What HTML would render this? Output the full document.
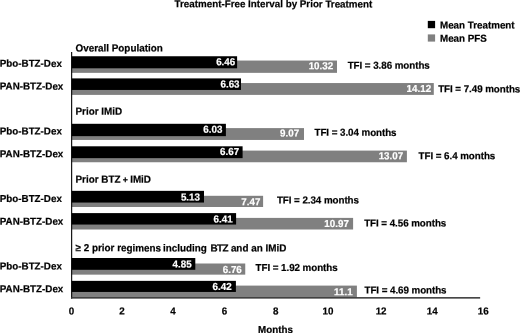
<!DOCTYPE html>
<html><head><meta charset="utf-8"><title>Treatment-Free Interval by Prior Treatment</title>
<style>
html,body{margin:0;padding:0;background:#fff;}
body{width:520px;height:333px;overflow:hidden;position:relative;font-family:"Liberation Sans",sans-serif;font-weight:bold;font-size:9.8px;color:#000;-webkit-text-stroke:0.2px;text-rendering:geometricPrecision;filter:blur(0.3px);}
.t{position:absolute;left:0;top:0;white-space:nowrap;line-height:12px;height:12px;transform-origin:0 0;}
.w{color:#fff;text-align:right;width:40px;}
.c{text-align:center;width:40px;}
.h{font-size:9.9px;}
.f{letter-spacing:-0.06px;}
svg{position:absolute;left:0;top:0;}
</style></head><body>
<svg width="520" height="333" viewBox="0 0 520 333">
<rect x="427.8" y="20.9" width="7.3" height="7.3" fill="#000"/>
<rect x="427.8" y="34.4" width="7.3" height="7.2" fill="#808080"/>
<rect x="71.70" y="60.55" width="265.30" height="12.30" fill="#808080"/>
<rect x="71.70" y="56.25" width="165.40" height="12.05" fill="#000"/>
<rect x="71.70" y="83.05" width="362.10" height="11.85" fill="#808080"/>
<rect x="71.70" y="78.40" width="169.30" height="11.55" fill="#000"/>
<rect x="71.70" y="128.10" width="232.30" height="11.85" fill="#808080"/>
<rect x="71.70" y="123.80" width="154.20" height="12.35" fill="#000"/>
<rect x="71.70" y="150.60" width="335.20" height="11.65" fill="#808080"/>
<rect x="71.70" y="146.30" width="170.90" height="11.85" fill="#000"/>
<rect x="71.70" y="195.80" width="191.40" height="11.20" fill="#808080"/>
<rect x="71.70" y="190.85" width="132.30" height="11.70" fill="#000"/>
<rect x="71.70" y="217.90" width="281.40" height="11.60" fill="#808080"/>
<rect x="71.70" y="213.10" width="164.40" height="11.45" fill="#000"/>
<rect x="71.70" y="263.50" width="173.55" height="11.15" fill="#808080"/>
<rect x="71.70" y="258.00" width="123.60" height="11.80" fill="#000"/>
<rect x="71.70" y="285.60" width="285.20" height="11.90" fill="#808080"/>
<rect x="71.70" y="280.86" width="164.20" height="11.09" fill="#000"/>
<rect x="71.1" y="52" width="1.1" height="246.7" fill="#000"/>
<rect x="71.1" y="297.1" width="409.05" height="1.5" fill="#333"/>
</svg>
<div class="t" style="transform:translate(174.60px,-1.02px) rotate(0.03deg) scale(1,1.04);">Treatment-Free Interval by Prior Treatment</div>
<div class="t" style="transform:translate(440.00px,20.18px) rotate(0.03deg) scale(1,1.04);">Mean Treatment</div>
<div class="t" style="transform:translate(440.00px,33.48px) rotate(0.03deg) scale(1,1.04);">Mean PFS</div>
<div class="t h" style="transform:translate(75.50px,43.13px) rotate(0.03deg) scale(1,1.04);">Overall Population</div>
<div class="t" style="transform:translate(-0.20px,58.53px) rotate(0.03deg) scale(1,1.04);">Pbo-BTZ-Dex</div>
<div class="t w" style="transform:translate(195.25px,56.88px) rotate(0.03deg) scale(1,1.04);">6.46</div>
<div class="t w" style="transform:translate(293.20px,61.03px) rotate(0.03deg) scale(1,1.04);">10.32</div>
<div class="t f" style="transform:translate(347.70px,60.43px) rotate(0.03deg) scale(1,1.04);">TFI = 3.86 months</div>
<div class="t" style="transform:translate(-0.20px,81.28px) rotate(0.03deg) scale(1,1.04);">PAN-BTZ-Dex</div>
<div class="t w" style="transform:translate(199.55px,79.28px) rotate(0.03deg) scale(1,1.04);">6.63</div>
<div class="t w" style="transform:translate(391.10px,83.68px) rotate(0.03deg) scale(1,1.04);">14.12</div>
<div class="t f" style="transform:translate(438.20px,84.03px) rotate(0.03deg) scale(1,1.04);">TFI = 7.49 months</div>
<div class="t h" style="transform:translate(75.50px,106.43px) rotate(0.03deg) scale(1,1.04);">Prior IMiD</div>
<div class="t" style="transform:translate(-0.20px,126.08px) rotate(0.03deg) scale(1,1.04);">Pbo-BTZ-Dex</div>
<div class="t w" style="transform:translate(182.40px,124.38px) rotate(0.03deg) scale(1,1.04);">6.03</div>
<div class="t w" style="transform:translate(259.10px,128.13px) rotate(0.03deg) scale(1,1.04);">9.07</div>
<div class="t f" style="transform:translate(314.50px,127.53px) rotate(0.03deg) scale(1,1.04);">TFI = 3.04 months</div>
<div class="t" style="transform:translate(-0.20px,148.83px) rotate(0.03deg) scale(1,1.04);">PAN-BTZ-Dex</div>
<div class="t w" style="transform:translate(199.10px,146.78px) rotate(0.03deg) scale(1,1.04);">6.67</div>
<div class="t w" style="transform:translate(363.20px,150.83px) rotate(0.03deg) scale(1,1.04);">13.07</div>
<div class="t f" style="transform:translate(418.60px,150.83px) rotate(0.03deg) scale(1,1.04);">TFI = 6.4 months</div>
<div class="t h" style="transform:translate(75.50px,173.43px) rotate(0.03deg) scale(1,1.04);">Prior BTZ<span style="word-spacing:-0.5px"> <span style="font-size:8.8px">+</span> </span>IMiD</div>
<div class="t" style="transform:translate(-0.20px,193.63px) rotate(0.03deg) scale(1,1.04);">Pbo-BTZ-Dex</div>
<div class="t w" style="transform:translate(160.00px,192.28px) rotate(0.03deg) scale(1,1.04);">5.13</div>
<div class="t w" style="transform:translate(220.40px,196.98px) rotate(0.03deg) scale(1,1.04);">7.47</div>
<div class="t f" style="transform:translate(276.90px,195.23px) rotate(0.03deg) scale(1,1.04);">TFI = 2.34 months</div>
<div class="t" style="transform:translate(-0.20px,216.38px) rotate(0.03deg) scale(1,1.04);">PAN-BTZ-Dex</div>
<div class="t w" style="transform:translate(192.60px,214.28px) rotate(0.03deg) scale(1,1.04);">6.41</div>
<div class="t w" style="transform:translate(308.90px,218.58px) rotate(0.03deg) scale(1,1.04);">10.97</div>
<div class="t f" style="transform:translate(364.20px,218.23px) rotate(0.03deg) scale(1,1.04);">TFI = 4.56 months</div>
<div class="t h" style="transform:translate(75.50px,243.03px) rotate(0.03deg) scale(1,1.04);">≥ 2 prior regimens <span style="position:relative;left:-0.8px">including</span> <span style="letter-spacing:-0.5px">BTZ</span> and an IMiD</div>
<div class="t" style="transform:translate(-0.20px,261.18px) rotate(0.03deg) scale(1,1.04);">Pbo-BTZ-Dex</div>
<div class="t w" style="transform:translate(151.60px,259.23px) rotate(0.03deg) scale(1,1.04);">4.85</div>
<div class="t w" style="transform:translate(201.80px,264.63px) rotate(0.03deg) scale(1,1.04);">6.76</div>
<div class="t f" style="transform:translate(255.60px,262.63px) rotate(0.03deg) scale(1,1.04);">TFI = 1.92 months</div>
<div class="t" style="transform:translate(-0.20px,283.93px) rotate(0.03deg) scale(1,1.04);">PAN-BTZ-Dex</div>
<div class="t w" style="transform:translate(191.70px,281.58px) rotate(0.03deg) scale(1,1.04);">6.42</div>
<div class="t w" style="transform:translate(312.60px,286.93px) rotate(0.03deg) scale(1,1.04);">11.1</div>
<div class="t f" style="transform:translate(364.50px,285.13px) rotate(0.03deg) scale(1,1.04);">TFI = 4.69 months</div>
<div class="t c" style="transform:translate(51.40px,306.23px) rotate(0.03deg) scale(1,1.04);">0</div>
<div class="t c" style="transform:translate(102.00px,306.23px) rotate(0.03deg) scale(1,1.04);">2</div>
<div class="t c" style="transform:translate(153.00px,306.23px) rotate(0.03deg) scale(1,1.04);">4</div>
<div class="t c" style="transform:translate(204.50px,306.23px) rotate(0.03deg) scale(1,1.04);">6</div>
<div class="t c" style="transform:translate(255.70px,306.23px) rotate(0.03deg) scale(1,1.04);">8</div>
<div class="t c" style="transform:translate(307.90px,306.23px) rotate(0.03deg) scale(1,1.04);">10</div>
<div class="t c" style="transform:translate(361.10px,306.23px) rotate(0.03deg) scale(1,1.04);">12</div>
<div class="t c" style="transform:translate(412.30px,306.23px) rotate(0.03deg) scale(1,1.04);">14</div>
<div class="t c" style="transform:translate(463.20px,306.23px) rotate(0.03deg) scale(1,1.04);">16</div>
<div class="t c" style="transform:translate(255.50px,324.73px) rotate(0.03deg) scale(1,1.04);">Months</div>
</body></html>
